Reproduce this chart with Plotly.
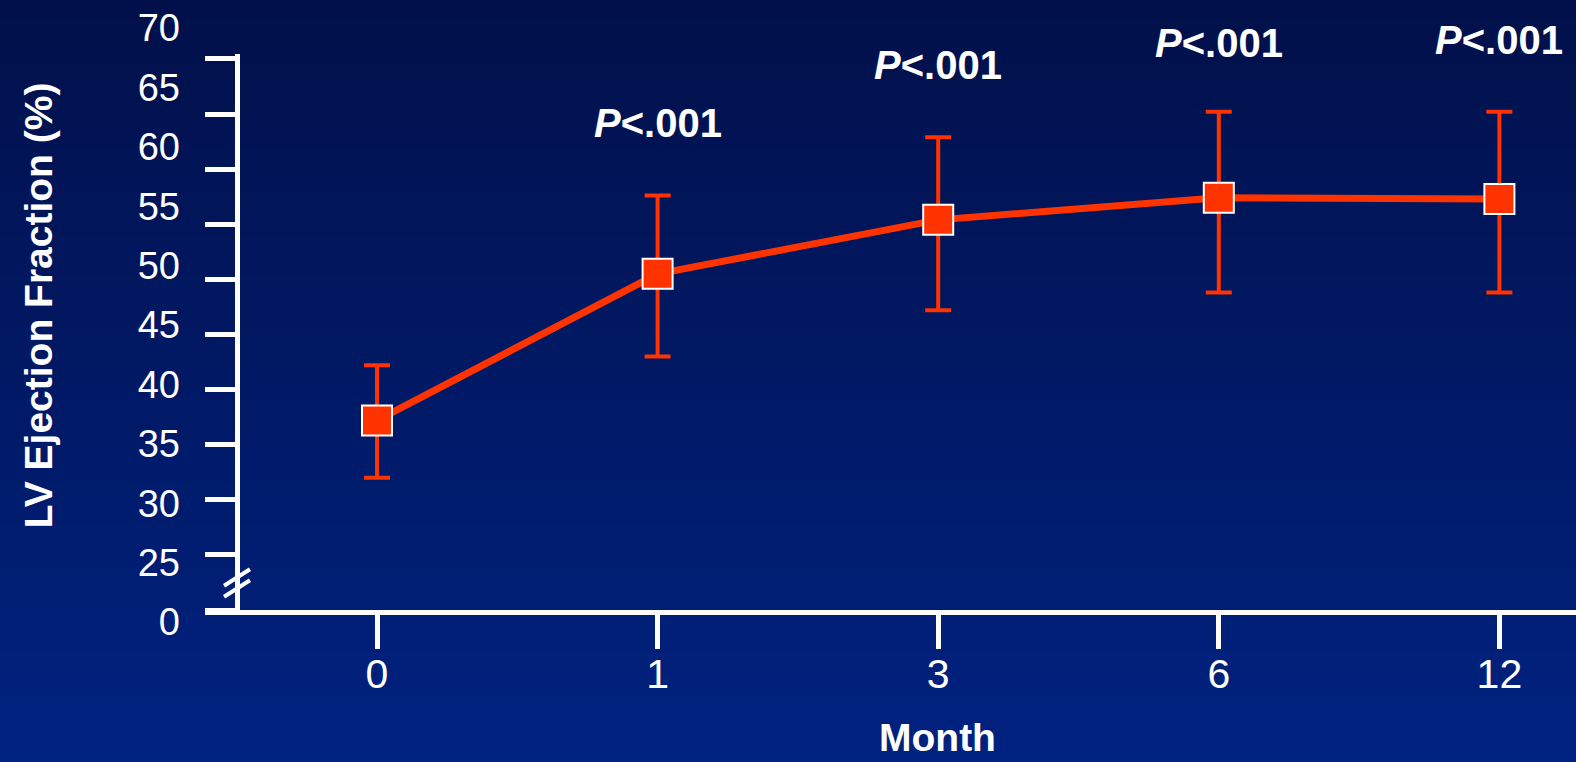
import plotly.graph_objects as go

# ---- data ----
months = ["0", "1", "3", "6", "12"]
lvef = [37.2, 50.5, 55.4, 57.4, 57.3]
err_plus = [5.0, 7.1, 7.5, 7.8, 7.9]
err_minus = [5.2, 7.5, 8.2, 8.6, 8.5]
p_labels = ["", "<b><i>P</i>&lt;.001</b>", "<b><i>P</i>&lt;.001</b>", "<b><i>P</i>&lt;.001</b>", "<b><i>P</i>&lt;.001</b>"]
p_label_y = [None, 0.834, 0.927, 0.963, 0.968]
# y axis: real value 0 is drawn at position 20 (axis break)
ytick_vals = [20, 25, 30, 35, 40, 45, 50, 55, 60, 65, 70]
ytick_text = ["0", "25", "30", "35", "40", "45", "50", "55", "60", "65", "70"]

FONT = "Liberation Sans, Arial, Helvetica, sans-serif"
RED = "#ff3300"
WHITE = "#ffffff"

fig = go.Figure()

fig.add_trace(go.Scatter(
    x=months, y=lvef, mode="lines+markers",
    line=dict(color=RED, width=7),
    marker=dict(symbol="square", size=30, color=RED, line=dict(color=WHITE, width=2)),
    error_y=dict(type="data", symmetric=False, array=err_plus, arrayminus=err_minus,
                 color=RED, thickness=4, width=13),
    hoverinfo="skip", showlegend=False, cliponaxis=False,
))

# dummy trace to carry the tick-label axis
fig.add_trace(go.Scatter(x=[None], y=[None], xaxis="x", yaxis="y2",
                         showlegend=False, hoverinfo="skip"))

# gradient background stripes
n = 90
top = (1, 16, 74)
bot = (0, 34, 128)
y0p, y1p = -0.2, 1.04
shapes = []
for i in range(n):
    t = i / (n - 1)
    c = tuple(round(bot[k] + (top[k] - bot[k]) * t) for k in range(3))
    ya = y0p + (y1p - y0p) * i / n
    yb = y0p + (y1p - y0p) * (i + 1) / n + 0.002
    shapes.append(dict(type="rect", xref="paper", yref="paper", x0=-0.16, x1=1.01,
                       y0=ya, y1=yb, fillcolor="rgb(%d,%d,%d)" % c,
                       line=dict(width=0), layer="below"))
# axis break marks
for yy in (0.0, 1.0):
    shapes.append(dict(type="line", xref="paper", yref="y", x0=0.0139, x1=0.0328,
                       y0=21.2 + yy, y1=22.7 + yy, line=dict(color=WHITE, width=4)))

annotations = []
for i, (txt, py) in enumerate(zip(p_labels, p_label_y)):
    if txt:
        annotations.append(dict(x=i, y=py, xref="x", yref="paper", text=txt,
                                xanchor="center", yanchor="middle", showarrow=False,
                                font=dict(family=FONT, size=40, color=WHITE)))
annotations.append(dict(x=-0.1218, y=0.54, xref="paper", yref="paper", textangle=-90,
                        xanchor="center", yanchor="middle",
                        text="<b>LV Ejection Fraction (%)</b>", showarrow=False,
                        font=dict(family=FONT, size=39, color=WHITE)))
annotations.append(dict(x=0.5346, y=-0.158, xref="paper", yref="paper",
                        xanchor="center", yanchor="middle",
                        text="<b>Month</b>", showarrow=False,
                        font=dict(family=FONT, size=39, color=WHITE)))

fig.update_layout(
    width=1576, height=762,
    margin=dict(l=205, r=0, t=20, b=122, pad=0),
    paper_bgcolor="#001a66", plot_bgcolor="rgba(0,0,0,0)",
    font=dict(family=FONT, color=WHITE),
    shapes=shapes, annotations=annotations,
    xaxis=dict(type="category", domain=[0, 1], anchor="y", range=[-0.613, 4.273],
               showline=True, linecolor=WHITE, linewidth=5,
               ticks="outside", ticklen=34, tickwidth=5, tickcolor=WHITE,
               tickfont=dict(family=FONT, size=41, color=WHITE),
               ticklabelstandoff=-10,
               showgrid=False, zeroline=False),
    yaxis=dict(domain=[30 / 620, 586 / 620], range=[20, 70.45],
               anchor="free", position=32 / 1371,
               showline=True, linecolor=WHITE, linewidth=5,
               ticks="outside", ticklen=30, tickwidth=5, tickcolor=WHITE,
               tickvals=ytick_vals, showticklabels=False,
               showgrid=False, zeroline=False),
    yaxis2=dict(domain=[0, 1], range=[18.485, 70.673], anchor="free", position=0,
                side="left", showline=False, ticks="",
                tickvals=ytick_vals, ticktext=ytick_text,
                tickfont=dict(family=FONT, size=38, color=WHITE),
                ticklabelstandoff=25,
                showgrid=False, zeroline=False),
)

fig.write_html("out.html", config={"displayModeBar": False},
               post_script="document.body.style.margin='0px';document.body.style.overflow='hidden';")
